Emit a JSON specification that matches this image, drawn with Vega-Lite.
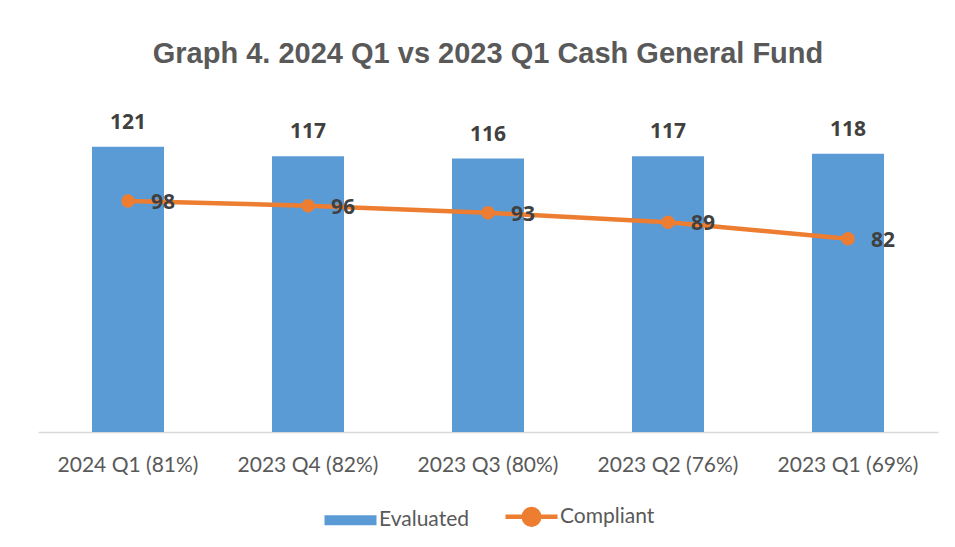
{
  "$schema": "https://vega.github.io/schema/vega-lite/v6.json",
  "autosize": "none",
  "width": 900,
  "height": 330,
  "padding": {"left": 38, "top": 102, "right": 17, "bottom": 115},
  "background": "white",
  "title": {
    "text": "Graph 4. 2024 Q1 vs 2023 Q1 Cash General Fund",
    "font": "Liberation Sans",
    "fontSize": 29,
    "fontWeight": "bold",
    "color": "#595959",
    "anchor": "middle",
    "baseline": "middle",
    "offset": 19
  },
  "config": {"view": {"stroke": null}},
  "data": {
    "values": [
      {"quarter": "2024 Q1 (81%)", "evaluated": 121, "compliant": 98},
      {"quarter": "2023 Q4 (82%)", "evaluated": 117, "compliant": 96},
      {"quarter": "2023 Q3 (80%)", "evaluated": 116, "compliant": 93},
      {"quarter": "2023 Q2 (76%)", "evaluated": 117, "compliant": 89},
      {"quarter": "2023 Q1 (69%)", "evaluated": 118, "compliant": 82}
    ]
  },
  "encoding": {
    "x": {
      "field": "quarter",
      "type": "nominal",
      "sort": null,
      "scale": {"paddingInner": 0.6, "paddingOuter": 0.3},
      "axis": {
        "title": null,
        "labelAngle": 0,
        "labelFont": "Lato",
        "labelFontSize": 21,
        "labelColor": "#595959",
        "labelPadding": 22,
        "ticks": false,
        "domainColor": "#D9D9D9",
        "domainWidth": 1.5,
        "grid": false
      }
    }
  },
  "layer": [
    {
      "mark": {"type": "bar", "color": "#5B9BD5"},
      "encoding": {
        "y": {"field": "evaluated", "type": "quantitative", "scale": {"domain": [0, 140], "nice": false}, "axis": null},
        "color": {
          "datum": "Evaluated",
          "type": "nominal",
          "scale": {"domain": ["Evaluated", "Compliant"], "range": ["#5B9BD5", "#ED7D31"]},
          "legend": {
            "title": null,
            "orient": "none",
            "direction": "horizontal",
            "legendX": 302,
            "legendY": 404,
            "labelFont": "Lato",
            "labelFontSize": 21,
            "labelColor": "#595959",
            "symbolSize": 2704,
            "labelOffset": 18,
            "columnPadding": 27,
            "encode": {
              "symbols": {
                "update": {
                  "shape": {"signal": "datum.value === 'Evaluated' ? 'M-1,-0.19H1V0.19H-1Z' : 'M-1,0H1M0.3,0A0.3,0.3 0 1,1 -0.3,0A0.3,0.3 0 1,1 0.3,0Z'"},
                  "size": {"value": 2704},
                  "fill": {"signal": "datum.value === 'Evaluated' ? '#5B9BD5' : '#ED7D31'"},
                  "stroke": {"signal": "datum.value === 'Evaluated' ? '#5B9BD5' : '#ED7D31'"},
                  "strokeWidth": {"signal": "datum.value === 'Evaluated' ? 0 : 4.5"},
                  "opacity": {"value": 1},
                  "fillOpacity": {"value": 1}
                }
              }
            }
          }
        }
      }
    },
    {
      "mark": {"type": "text", "font": "Open Sans", "fontSize": 21, "fontWeight": "bold", "color": "#404040", "dy": -24},
      "encoding": {
        "y": {"field": "evaluated", "type": "quantitative"},
        "text": {"field": "evaluated", "type": "quantitative"}
      }
    },
    {
      "mark": {"type": "line", "color": "#ED7D31", "strokeWidth": 4.5},
      "encoding": {
        "y": {"field": "compliant", "type": "quantitative"},
        "color": {"datum": "Compliant", "type": "nominal"}
      }
    },
    {
      "mark": {"type": "point", "filled": true, "size": 180, "opacity": 1, "color": "#ED7D31"},
      "encoding": {
        "y": {"field": "compliant", "type": "quantitative"}
      }
    },
    {
      "mark": {"type": "text", "font": "Open Sans", "fontSize": 21, "fontWeight": "bold", "color": "#404040", "align": "left", "baseline": "middle", "dx": 23, "dy": 2},
      "encoding": {
        "y": {"field": "compliant", "type": "quantitative"},
        "text": {"field": "compliant", "type": "quantitative"}
      }
    }
  ]
}
